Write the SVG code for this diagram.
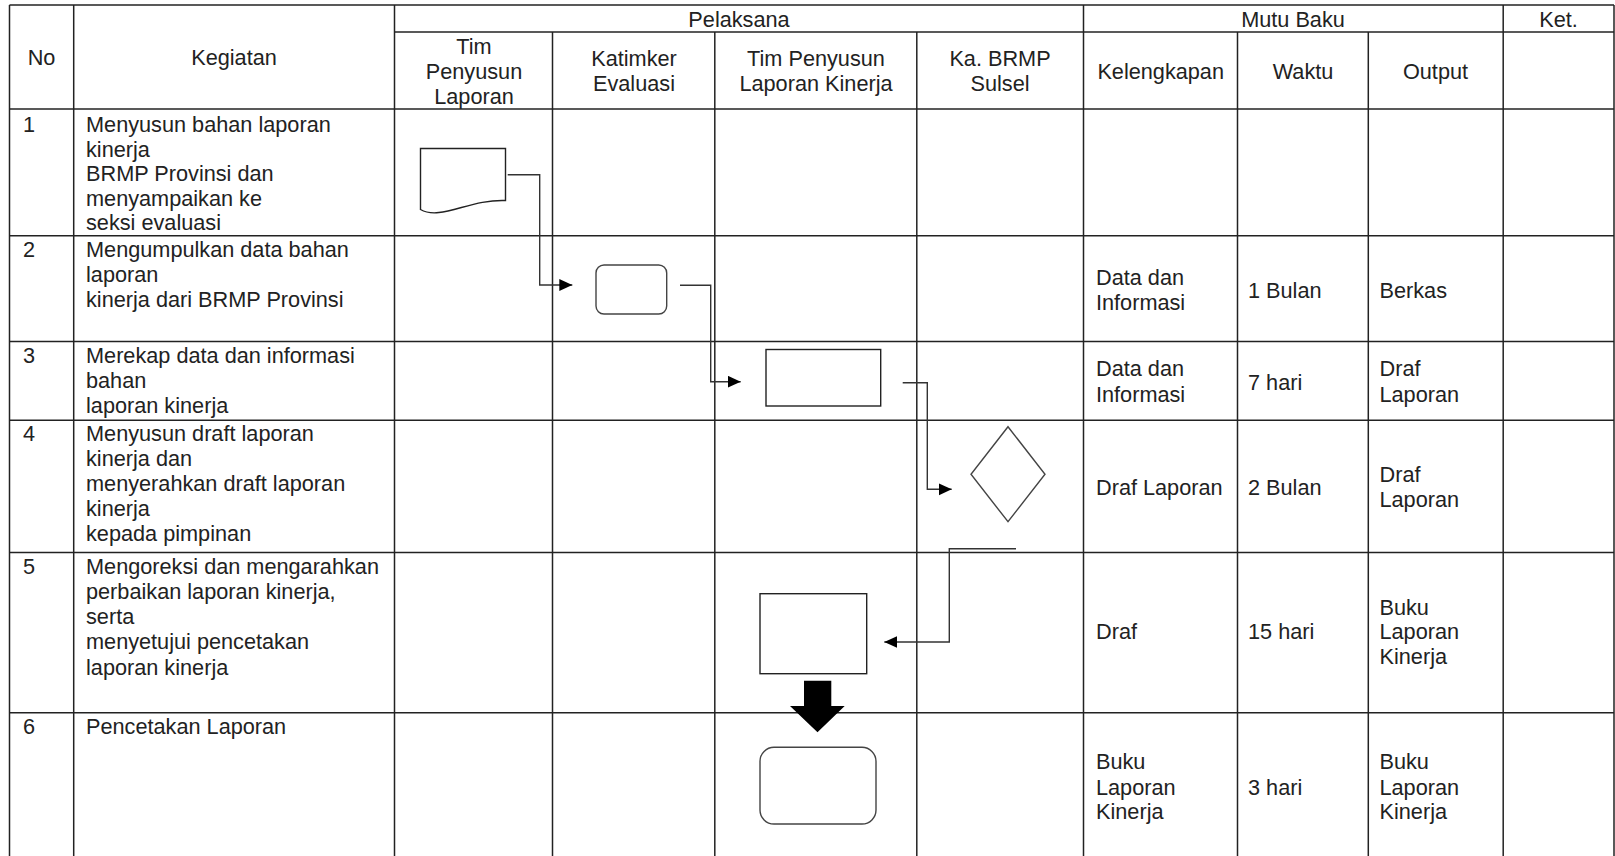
<svg xmlns="http://www.w3.org/2000/svg" width="1615" height="856" viewBox="0 0 1615 856">
<style>
  .grid { stroke: #222; stroke-width: 1.5; fill: none; }
  text { font-family: "Liberation Sans", Arial, sans-serif; font-size: 21.7px; fill: #222; }
  .c { text-anchor: middle; }
  .shape { fill: #fff; stroke: #222; stroke-width: 1.4; }
  .soft { fill: #fff; stroke: #444; stroke-width: 1.4; }
  .conn { fill: none; stroke: #333; stroke-width: 1.4; }
</style>
<defs>
  <marker id="ah" markerUnits="userSpaceOnUse" markerWidth="14" markerHeight="13" refX="13" refY="6" orient="auto">
    <path d="M0,0 L13,6 L0,12 Z" fill="#000"/>
  </marker>
</defs>
<rect width="1615" height="856" fill="#fff"/>

<g id="table" class="grid">
  <line x1="9.5" y1="5" x2="1614" y2="5"/>
  <line x1="394.5" y1="32" x2="1614" y2="32"/>
  <line x1="9.5" y1="109" x2="1614" y2="109"/>
  <line x1="9.5" y1="235.7" x2="1614" y2="235.7"/>
  <line x1="9.5" y1="341.5" x2="1614" y2="341.5"/>
  <line x1="9.5" y1="420.3" x2="1614" y2="420.3"/>
  <line x1="9.5" y1="552.5" x2="1614" y2="552.5"/>
  <line x1="9.5" y1="712.7" x2="1614" y2="712.7"/>
  <line x1="9.5" y1="5" x2="9.5" y2="856"/>
  <line x1="73.7" y1="5" x2="73.7" y2="856"/>
  <line x1="394.5" y1="5" x2="394.5" y2="856"/>
  <line x1="552.5" y1="32" x2="552.5" y2="856"/>
  <line x1="714.8" y1="32" x2="714.8" y2="856"/>
  <line x1="916.8" y1="32" x2="916.8" y2="856"/>
  <line x1="1083.5" y1="5" x2="1083.5" y2="856"/>
  <line x1="1237.5" y1="32" x2="1237.5" y2="856"/>
  <line x1="1368.3" y1="32" x2="1368.3" y2="856"/>
  <line x1="1503.2" y1="5" x2="1503.2" y2="856"/>
  <line x1="1614" y1="5" x2="1614" y2="856"/>
</g>

<g id="header">
  <text class="c" x="41.5" y="65">No</text>
  <text class="c" x="234" y="65">Kegiatan</text>
  <text class="c" x="739" y="27">Pelaksana</text>
  <text class="c" x="1293" y="27">Mutu Baku</text>
  <text class="c" x="1558.5" y="27">Ket.</text>
  <text class="c" x="474" y="53.5">Tim</text>
  <text class="c" x="474" y="78.5">Penyusun</text>
  <text class="c" x="474" y="103.5">Laporan</text>
  <text class="c" x="634" y="65.5">Katimker</text>
  <text class="c" x="634" y="90.5">Evaluasi</text>
  <text class="c" x="816" y="65.5">Tim Penyusun</text>
  <text class="c" x="816" y="90.5">Laporan Kinerja</text>
  <text class="c" x="1000" y="65.5">Ka. BRMP</text>
  <text class="c" x="1000" y="90.5">Sulsel</text>
  <text class="c" x="1160.7" y="79">Kelengkapan</text>
  <text class="c" x="1303" y="79">Waktu</text>
  <text class="c" x="1435.5" y="79">Output</text>
</g>

<g id="row1">
  <text x="23" y="132">1</text>
  <text x="86" y="132">Menyusun bahan laporan</text>
  <text x="86" y="156.6">kinerja</text>
  <text x="86" y="181.2">BRMP Provinsi dan</text>
  <text x="86" y="205.8">menyampaikan ke</text>
  <text x="86" y="230.4">seksi evaluasi</text>
</g>
<g id="row2">
  <text x="23" y="256.7">2</text>
  <text x="86" y="256.7">Mengumpulkan data bahan</text>
  <text x="86" y="281.7">laporan</text>
  <text x="86" y="306.7">kinerja dari BRMP Provinsi</text>
  <text x="1096" y="285">Data dan</text>
  <text x="1096" y="310">Informasi</text>
  <text x="1248" y="297.7">1 Bulan</text>
  <text x="1379.5" y="297.7">Berkas</text>
</g>
<g id="row3">
  <text x="23" y="362.7">3</text>
  <text x="86" y="362.7">Merekap data dan informasi</text>
  <text x="86" y="387.5">bahan</text>
  <text x="86" y="412.5">laporan kinerja</text>
  <text x="1096" y="376">Data dan</text>
  <text x="1096" y="401.7">Informasi</text>
  <text x="1248" y="390">7 hari</text>
  <text x="1379.5" y="376">Draf</text>
  <text x="1379.5" y="401.7">Laporan</text>
</g>
<g id="row4">
  <text x="23" y="440.7">4</text>
  <text x="86" y="440.7">Menyusun draft laporan</text>
  <text x="86" y="466">kinerja dan</text>
  <text x="86" y="490.7">menyerahkan draft laporan</text>
  <text x="86" y="516">kinerja</text>
  <text x="86" y="541">kepada pimpinan</text>
  <text x="1096" y="495">Draf Laporan</text>
  <text x="1248" y="495">2 Bulan</text>
  <text x="1379.5" y="481.7">Draf</text>
  <text x="1379.5" y="506.7">Laporan</text>
</g>
<g id="row5">
  <text x="23" y="574.3">5</text>
  <text x="86" y="574.3">Mengoreksi dan mengarahkan</text>
  <text x="86" y="599.3">perbaikan laporan kinerja,</text>
  <text x="86" y="624">serta</text>
  <text x="86" y="649.3">menyetujui pencetakan</text>
  <text x="86" y="675">laporan kinerja</text>
  <text x="1096" y="639.3">Draf</text>
  <text x="1248" y="639.3">15 hari</text>
  <text x="1379.5" y="615">Buku</text>
  <text x="1379.5" y="639.3">Laporan</text>
  <text x="1379.5" y="664.3">Kinerja</text>
</g>
<g id="row6">
  <text x="23" y="734">6</text>
  <text x="86" y="734">Pencetakan Laporan</text>
  <text x="1096" y="769.3">Buku</text>
  <text x="1096" y="795">Laporan</text>
  <text x="1096" y="819.3">Kinerja</text>
  <text x="1248" y="795">3 hari</text>
  <text x="1379.5" y="769.3">Buku</text>
  <text x="1379.5" y="795">Laporan</text>
  <text x="1379.5" y="819.3">Kinerja</text>
</g>

<g id="connectors">
  <path class="conn" d="M507.7,174.7 H539.7 V285 H572.3" marker-end="url(#ah)"/>
  <path class="conn" d="M680,285.3 H710.7 V381.7 H740.7" marker-end="url(#ah)"/>
  <path class="conn" d="M902.7,382.7 H927.3 V489.3 H951.7" marker-end="url(#ah)"/>
  <path class="conn" d="M1016,548.7 H949.3 V642 H884.3" marker-end="url(#ah)"/>
</g>

<g id="n1-document">
  <path class="shape" d="M420.5,148.5 H505.5 V200.5 C470,199 440,221 420.5,209.5 Z"/>
</g>
<g id="n2-rounded">
  <rect class="soft" x="596" y="265" width="70.7" height="49" rx="8"/>
</g>
<g id="n3-process">
  <rect class="shape" x="766" y="349.5" width="114.7" height="56.5"/>
</g>
<g id="n4-decision">
  <polygon class="soft" points="1008,426.7 1045,474.3 1008,521.7 971,474.3"/>
</g>
<g id="n5-process">
  <rect class="shape" x="760" y="593.7" width="106.7" height="80"/>
</g>
<g id="n5-block-arrow">
  <polygon fill="#000" points="804,680.7 831.3,680.7 831.3,706 844.7,706 817.5,732.3 790,706 804,706"/>
</g>
<g id="n6-terminal">
  <rect class="soft" x="760" y="747.3" width="116" height="76.7" rx="14"/>
</g>
</svg>
